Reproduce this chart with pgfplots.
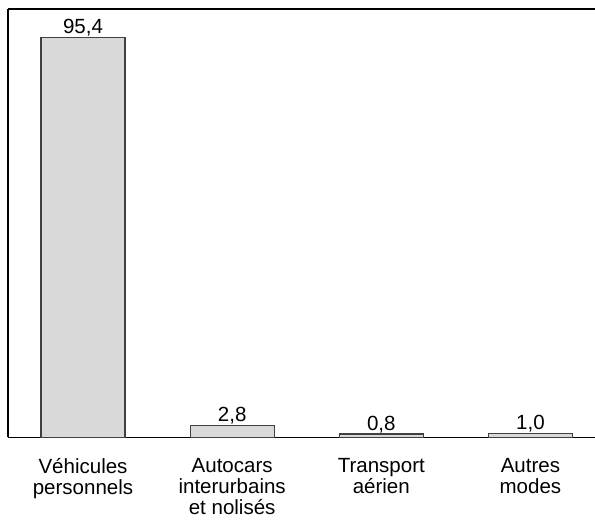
\documentclass[border=0pt]{standalone}
\usepackage{fontspec}
\setmainfont{Liberation Sans}
\usepackage{pgfplots}
\pgfplotsset{compat=1.18}
\definecolor{barfill}{HTML}{D9D9D9}
\definecolor{baredge}{HTML}{404040}

\begin{document}
\begin{tikzpicture}
\begin{axis}[
    scale only axis,
    width=586.5pt,
    height=428pt,
    xmin=-0.503, xmax=3.433,
    ymin=0, ymax=102.1,
    axis x line=box,
    axis y line=left,
    x axis line style={-},
    y axis line style={-},
    axis line style={line width=1.6pt, black},
    ytick=\empty,
    xtick=data,
    major tick length=0pt,
    xticklabels={{Véhicules\\personnels},{Autocars\\interurbains\\et nolisés},{Transport\\aérien},{Autres\\modes}},
    xticklabel style={align=center, font=\fontsize{20.5}{21}\selectfont, yshift=-17pt},
    /pgf/number format/assume math mode=true,
    ybar,
    bar width=84pt,
    nodes near coords={\pgfmathprintnumber[use comma,fixed,fixed zerofill,precision=1]{\pgfplotspointmeta}},
    every node near coord/.append style={font=\fontsize{20.5}{22}\selectfont, inner sep=0.5pt, anchor=south},
  ]
  \addplot[draw=baredge, fill=barfill, line width=1.2pt] coordinates {(0,95.4) (1,2.8) (2,0.8) (3,1.0)};
\end{axis}
\pgfresetboundingbox
\path ([xshift=-8pt,yshift=9pt]current axis.north west) rectangle ([yshift=-88pt]current axis.south east);
\end{tikzpicture}
\end{document}
